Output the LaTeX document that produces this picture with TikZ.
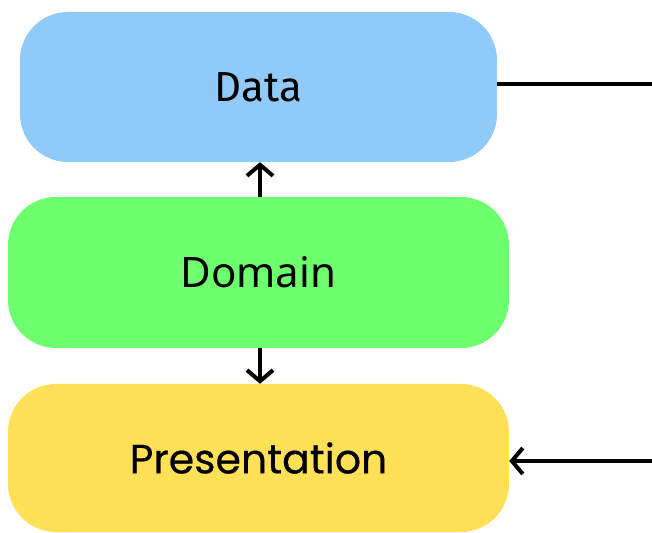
\documentclass[tikz,border=0pt]{standalone}
\usepackage{fontspec}
\setmainfont{Noto Sans}
\newfontfamily\datafont{Fira Sans}
\newfontfamily\presfont{Poppins}
\usetikzlibrary{arrows.meta}
\definecolor{databg}{HTML}{90CAF9}
\definecolor{domainbg}{HTML}{6EFF6E}
\definecolor{presbg}{HTML}{FFE057}
\tikzset{
  layer/.style={rounded corners=48pt, minimum height=150pt, inner sep=0pt, text=black},
  conn/.style={line width=4pt, draw=black},
  tip/.style={-{Straight Barb[length=11pt,width=26pt,line width=4pt]}}
}
\begin{document}
\begin{tikzpicture}[x=1pt,y=1pt]
\useasboundingbox (0,0) rectangle (652,532);
\node[layer, fill=databg, minimum width=477pt, minimum height=150pt] (data) at (258.5,445) {\datafont\fontsize{42}{46}\selectfont Data};
\node[layer, fill=domainbg, minimum width=501pt, minimum height=151pt] (domain) at (258.5,259.5) {\fontsize{42}{46}\selectfont Domain};
\node[layer, fill=presbg, minimum width=501pt, minimum height=148pt] (pres) at (258.5,74) {\presfont\fontsize{41}{46}\selectfont\addfontfeature{FakeBold=0.4}Presentation};
\coordinate (dataend) at (652,448);
\coordinate (presstart) at (652,71);
\draw[conn] (data.east |- dataend) -- (dataend);
\draw[conn, tip] (presstart) -- (pres.east |- presstart);
\draw[conn, tip] (domain.north -| 260,0) -- (data.south -| 260,0);
\draw[conn, tip] (domain.south -| 260,0) -- (pres.north -| 260,0);
\end{tikzpicture}
\end{document}
